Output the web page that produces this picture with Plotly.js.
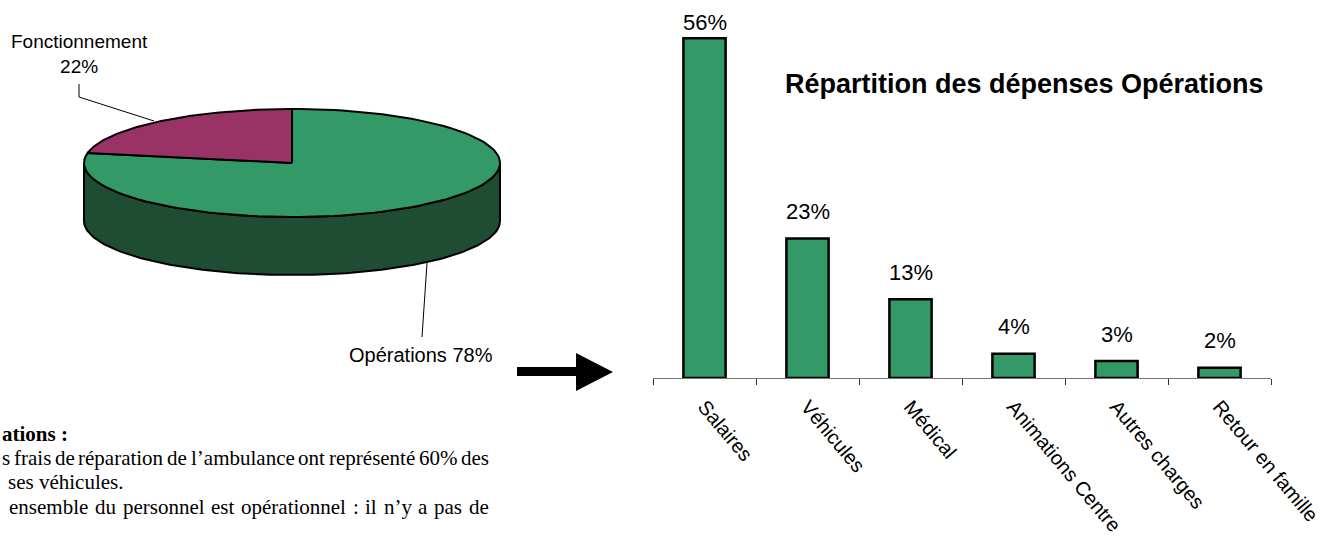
<!DOCTYPE html>
<html><head><meta charset="utf-8">
<script src="https://cdn.plot.ly/plotly-3.0.1.min.js"></script>
<style>html,body{margin:0;padding:0;background:#fff}#chart{width:1325px;height:546px}</style>
</head><body><div id="chart"></div>
<script>
// ---- data ----
const pieLabels = ['Opérations', 'Fonctionnement'];
const pieValues = [78, 22];
const barCategories = ['Salaires', 'Véhicules', 'Médical', 'Animations Centre', 'Autres charges', 'Retour en famille'];
const barValues = [56, 23, 13, 4, 2.8, 1.7];
const barTitle = 'Répartition des dépenses Opérations';
const noteHeading = 'ations :';
const noteLines = [
  {text: 's frais de réparation de l’ambulance ont représenté 60% des', justify: true, x0: 1},
  {text: 'ses véhicules.', justify: false, x0: 6},
  {text: 'ensemble du personnel est opérationnel : il n’y a pas de', justify: true, x0: 8}
];

// ---- style / geometry ----
const W = 1325, H = 546;
const green = '#339966', greenSide = '#1e4d34', magenta = '#993366';
const sans = 'Arial, "Liberation Sans", sans-serif';
const serif = '"Times New Roman", "Liberation Serif", serif';
const pie = {cx: 292, cy: 163, rx: 208, ry: 54, depth: 58};
const axisPx = 378, topPx = 14, yMax = 60;
const pxPerUnit = (axisPx - topPx) / yMax;

function arc(t0, t1, dy) {
  const xs = [], ys = [], n = 120;
  for (let i = 0; i <= n; i++) {
    const t = (t0 + (t1 - t0) * i / n) * Math.PI / 180;
    xs.push(pie.cx + pie.rx * Math.cos(t));
    ys.push(pie.cy - pie.ry * Math.sin(t) + (dy || 0));
  }
  return {xs, ys};
}

const total = pieValues.reduce((a, b) => a + b, 0);
const fonAngle = pieValues[1] / total * 360;   // counter-clockwise from 12 o'clock
const opsAngle = pieValues[0] / total * 360;   // clockwise from 12 o'clock

const topFront = arc(180, 360, 0), botFront = arc(360, 180, pie.depth);
const side = {
  x: topFront.xs.concat(botFront.xs, [topFront.xs[0]]),
  y: topFront.ys.concat(botFront.ys, [topFront.ys[0]]),
  xaxis: 'x2', yaxis: 'y2', mode: 'lines', fill: 'toself', fillcolor: greenSide,
  line: {color: '#000', width: 2}, hoverinfo: 'skip', showlegend: false
};
const opsArc = arc(90, 90 - opsAngle, 0);
const opsSlice = {
  x: [pie.cx].concat(opsArc.xs, [pie.cx]), y: [pie.cy].concat(opsArc.ys, [pie.cy]),
  xaxis: 'x2', yaxis: 'y2', mode: 'lines', fill: 'toself', fillcolor: green,
  line: {color: '#000', width: 2}, hoverinfo: 'skip', showlegend: false
};
const fonArc = arc(90, 90 + fonAngle, 0);
const fonSlice = {
  x: [pie.cx].concat(fonArc.xs, [pie.cx]), y: [pie.cy].concat(fonArc.ys, [pie.cy]),
  xaxis: 'x2', yaxis: 'y2', mode: 'lines', fill: 'toself', fillcolor: magenta,
  line: {color: '#000', width: 2}, hoverinfo: 'skip', showlegend: false
};

const bars = {
  type: 'bar', x: barCategories, y: barValues, xaxis: 'x', yaxis: 'y',
  width: 0.41,
  marker: {color: green, line: {color: '#000', width: 2.5}},
  hoverinfo: 'skip', showlegend: false
};

// ---- annotations ----
const ann = [];
function A(o) { ann.push(Object.assign({xref: 'x2', yref: 'y2', showarrow: false}, o)); }
A({x: 1024, y: 84, text: '<b>' + barTitle + '</b>', font: {family: sans, size: 27, color: '#000'}});
A({x: 79, y: 54, text: pieLabels[1] + '<br>' + pieValues[1] + '%', font: {family: sans, size: 19, color: '#000'}});
A({x: 421, y: 355, text: pieLabels[0] + ' ' + pieValues[0] + '%', font: {family: sans, size: 20, color: '#000'}});

// bar value labels (outside end, clamped to the chart top)
barCategories.forEach((c, i) => {
  const v = barValues[i];
  const topOfBar = axisPx - v * pxPerUnit;
  const shift = Math.min(27, topOfBar - 22);
  ann.push({xref: 'x', yref: 'y', x: c, y: v, yshift: shift, yanchor: 'middle', showarrow: false,
    text: Math.round(v) + '%', font: {family: sans, size: 22, color: '#000'}});
});

// notes (justified text)
const fs = 21;
const ctx = document.createElement('canvas').getContext('2d');
ctx.font = fs + 'px "Liberation Serif"';
A({x: 0, y: 434, xanchor: 'left', text: '<b>' + noteHeading + '</b>', font: {family: serif, size: fs, color: '#000'}});
const lineY = [458, 482, 507];
const rightEdge = 488;
noteLines.forEach((ln, i) => {
  if (!ln.justify) {
    A({x: ln.x0, y: lineY[i], xanchor: 'left', text: ln.text, font: {family: serif, size: fs, color: '#000'}});
    return;
  }
  const words = ln.text.split(' ');
  const widths = words.map(w => ctx.measureText(w).width);
  const sum = widths.reduce((a, b) => a + b, 0);
  const gap = (rightEdge - ln.x0 - sum) / (words.length - 1);
  let x = ln.x0;
  words.forEach((w, k) => {
    A({x: x, y: lineY[i], xanchor: 'left', xshift: -1, text: w, font: {family: serif, size: fs, color: '#000'}});
    x += widths[k] + gap;
  });
});

const shapes = [
  {type: 'path', xref: 'x2', yref: 'y2', path: 'M79,84 L79,97 L154,121', line: {color: '#000', width: 1}},
  {type: 'path', xref: 'x2', yref: 'y2', path: 'M427,263 L422,337', line: {color: '#000', width: 1}},
  {type: 'path', xref: 'x2', yref: 'y2', path: 'M517,367 L576,367 L576,353 L613,372 L576,391 L576,376 L517,376 Z',
   fillcolor: '#000', line: {color: '#000', width: 0}}
];

const layout = {
  width: W, height: H, margin: {l: 0, r: 0, t: 0, b: 0},
  paper_bgcolor: '#fff', plot_bgcolor: 'rgba(0,0,0,0)',
  font: {family: sans, color: '#000'},
  showlegend: false,
  xaxis: {
    domain: [653 / W, 1271 / W], anchor: 'y', type: 'category', range: [-0.5, 5.5],
    showline: true, linecolor: '#777', linewidth: 1,
    ticks: 'outside', tickson: 'boundaries', ticklen: 6, tickcolor: '#333', tickwidth: 1,
    tickangle: 50, ticklabelstandoff: 8, tickfont: {family: sans, size: 20, color: '#000'},
    showgrid: false, zeroline: false, fixedrange: true
  },
  yaxis: {
    domain: [1 - axisPx / H, 1 - topPx / H], anchor: 'x', range: [0, yMax], visible: false, fixedrange: true
  },
  xaxis2: {domain: [0, 1], anchor: 'y2', range: [0, W], visible: false, fixedrange: true},
  yaxis2: {domain: [0, 1], anchor: 'x2', range: [H, 0], visible: false, fixedrange: true},
  annotations: ann,
  shapes: shapes
};

Plotly.newPlot('chart', [side, opsSlice, fonSlice, bars], layout, {staticPlot: true, displayModeBar: false});
</script></body></html>
